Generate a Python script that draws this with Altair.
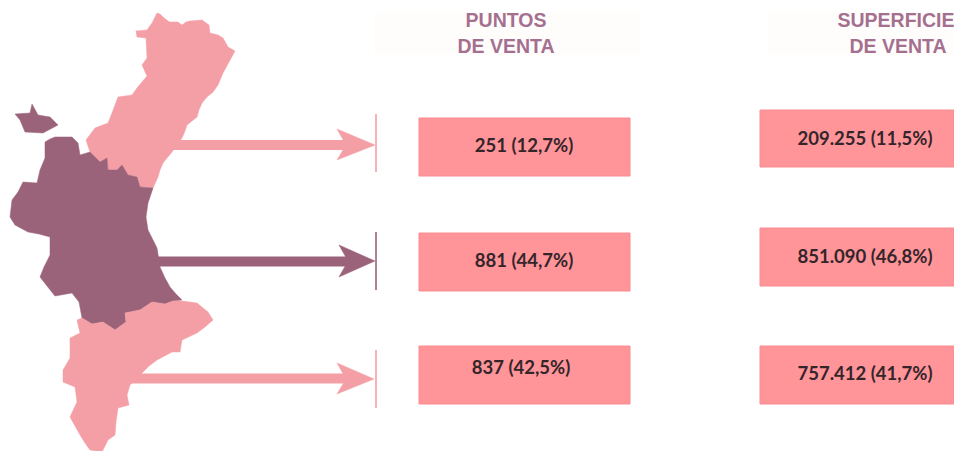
import altair as alt
import pandas as pd

PINK = "#f49fa6"
PURPLE = "#9a6379"
BOX = "#ff9499"
BOX_EDGE = "#fb8c90"

castellon = [(157,13),(160,14),(163,17),(168,21),(170,22),(178,22),(182,25),(186,22),(190,21),(202,20),(209,25),(210,33),(218,35),(223,38),(228,47),(235,51),
             (229,62),(223,73),(218,85),(213,92),(207,97),(202,103),(199,110),(197,117),(187,125),(185,131),(182,138),(172,152),(167,158),(163,163),(160,170),(158,177),(153,188),(146,187),(140,187),
             (137,177),(128,175),(122,165),(117,170),(108,170),(107,158),(100,162),(90,152),(86,140),(95,128),(108,123),
             (112,113),(118,97),(132,95),(137,88),(147,76),(142,65),(147,58),(146,38),(137,37),(136,31),(147,30),(152,23)]
valencia = [(45,142),(50,139),(55,137),(72,137),(78,143),(80,155),(90,152),(100,162),(107,158),(108,170),(117,170),(122,165),(128,175),
            (137,177),(140,187),(153,188),(148,203),(146,217),(148,230),(157,248),(160,267),(165,278),(170,287),(176,294),(182,300),(173,301),
            (165,304),(152,302),(140,310),(125,313),(126,322),(115,330),(103,322),(92,324),(82,318),(79,302),(72,293),(55,296),(47,286),
            (40,277),(44,267),(50,255),(50,237),(39,234),(28,232),(15,225),(10,217),(12,200),(18,192),(23,182),(37,183),(40,170),(45,158)]
enclave = [(15,114),(30,113),(32,104),(38,115),(50,117),(58,125),(43,133),(25,132),(20,120)]
alicante = [(182,301),(197,303),(208,312),(213,320),(205,327),(197,333),(182,340),(180,352),(172,352),(157,360),(149,366),(142,373),(130,385),
            (127,395),(129,405),(118,408),(116,422),(115,435),(108,440),(102,452),(90,450),(85,443),(80,435),(70,417),(77,402),(75,387),(63,382),
            (63,370),(70,358),(70,338),(80,333),(77,320),(82,318),(92,324),(103,322),(115,330),(126,322),(125,313),(140,310),
            (152,302),(165,304),(173,301)]
head_top = [(337,129),(375,145),(337,160),(346,145)]
head_mid = [(339,245),(375,261),(339,277),(348,261)]
head_bot = [(337,363),(374,379),(337,394),(346,379)]

stem_start = [170, 155, 125]
stem_end = [350, 350, 350]
stem_y = [145, 261.5, 378.5]
tick_top = [114, 232, 350]
tick_bottom = [172, 290, 408]
tick_x = [376, 376, 376]
row_colors = [PINK, PURPLE, PINK]

box_x = [419, 419, 419, 760, 760, 760]
box_x2 = [630, 630, 630, 954, 954, 954]
box_y = [118, 233, 346, 110, 228, 346]
box_y2 = [176, 291, 404, 167, 286, 404]

value_labels = ["251 (12,7%)", "881 (44,7%)", "837 (42,5%)", "209.255 (11,5%)", "851.090 (46,8%)", "757.412 (41,7%)"]
value_x = [524, 524, 521, 865, 865, 865]
value_y = [146, 261, 368, 139, 257, 374]

header_labels = ["PUNTOS", "DE VENTA", "SUPERFICIE", "DE VENTA"]
header_x = [506, 506, 896, 898]
header_y = [21, 47, 21, 47]

X = alt.Scale(domain=[8, 954], range=[0, 946], nice=False, zero=False)
Y = alt.Scale(domain=[8, 451], range=[0, 443], nice=False, zero=False)
xe = lambda f: alt.X(f, type="quantitative", scale=X, axis=None)
ye = lambda f: alt.Y(f, type="quantitative", scale=Y, axis=None)


def shape(points, fill):
    ring = [list(p) for p in points] + [list(points[0])]
    feature = {"type": "Feature", "properties": {}, "geometry": {"type": "Polygon", "coordinates": [ring]}}
    return alt.Chart(alt.Data(values=[feature])).mark_geoshape(fill=fill, stroke=fill, strokeWidth=0.5).project(
        type="identity", scale=1, translate=[-8, -8])


layers = []
# faint header panels
panels = pd.DataFrame({"x": [375, 768], "x2": [640, 954], "y": [12, 12], "y2": [55, 55]})
layers.append(alt.Chart(panels).mark_rect(color="#fefdfc").encode(x=xe("x"), x2="x2", y=ye("y"), y2="y2"))

# arrows
for i in range(3):
    row = pd.DataFrame({"x": [stem_start[i]], "x2": [stem_end[i]], "y": [stem_y[i]]})
    layers.append(alt.Chart(row).mark_rule(color=row_colors[i], strokeWidth=10).encode(x=xe("x"), x2="x2", y=ye("y")))
    tick = pd.DataFrame({"x": [tick_x[i]], "y": [tick_top[i]], "y2": [tick_bottom[i]]})
    layers.append(alt.Chart(tick).mark_rule(color=row_colors[i], strokeWidth=1.6).encode(x=xe("x"), y=ye("y"), y2="y2"))
for pts, col in [(head_top, PINK), (head_mid, PURPLE), (head_bot, PINK)]:
    layers.append(shape(pts, col))

# map
for pts, col in [(castellon, PINK), (valencia, PURPLE), (enclave, PURPLE), (alicante, PINK)]:
    layers.append(shape(pts, col))

# boxes
boxes = pd.DataFrame({"x": box_x, "x2": box_x2, "y": box_y, "y2": box_y2})
layers.append(alt.Chart(boxes).mark_rect(fill=BOX, stroke=BOX_EDGE, strokeWidth=1).encode(
    x=xe("x"), x2="x2", y=ye("y"), y2="y2"))

# text
vals = pd.DataFrame({"x": value_x, "y": value_y, "t": value_labels})
layers.append(alt.Chart(vals).mark_text(font="Lato", fontWeight="bold", fontSize=18.5, color="#33252a",
                                        align="center", baseline="middle").encode(x=xe("x"), y=ye("y"), text="t:N"))
heads = pd.DataFrame({"x": header_x, "y": header_y, "t": header_labels})
layers.append(alt.Chart(heads).mark_text(font="Liberation Sans", fontWeight="bold", fontSize=19.5, color="#a5708f",
                                         align="center", baseline="middle").encode(x=xe("x"), y=ye("y"), text="t:N"))

chart = alt.layer(*layers).properties(
    width=946, height=443, padding=0, autosize=alt.AutoSizeParams(type="none"), background="white"
).configure_view(stroke=None)

chart.save("out.html", embed_options={"renderer": "svg", "actions": False})
